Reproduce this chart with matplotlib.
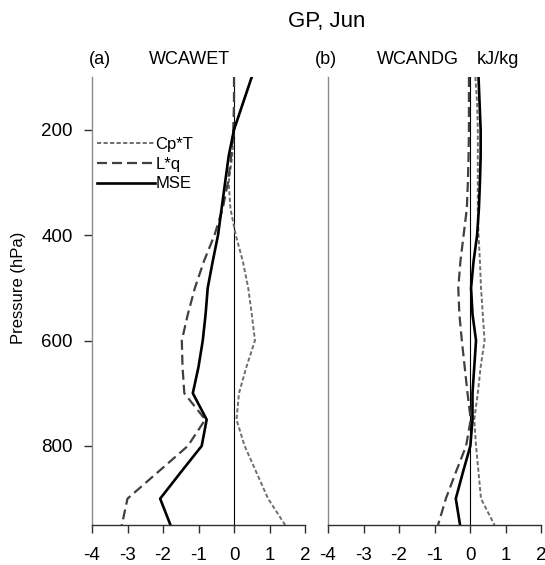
import matplotlib
matplotlib.use("Agg")
import matplotlib.pyplot as plt

plt.rcParams['font.family'] = ['Liberation Sans', 'DejaVu Sans']
plt.rcParams['lines.scale_dashes'] = False

# pressure levels (hPa)
levels = [100, 150, 200, 250, 300, 350, 400, 450, 500, 550, 600, 650, 700, 750, 800, 850, 900, 950]

# (a) WCAWET, kJ/kg
cpt_wet = [0.5, 0.25, 0.0, -0.05, -0.15, -0.1, 0.05, 0.25, 0.4, 0.5, 0.59, 0.35, 0.14, 0.07, 0.3, 0.63, 0.96, 1.44]
lq_wet = [0.0, 0.0, -0.02, -0.08, -0.17, -0.32, -0.55, -0.85, -1.1, -1.3, -1.47, -1.45, -1.4, -0.81, -1.3, -2.15, -3.0, -3.16]
mse_wet = [0.5, 0.25, 0.0, -0.15, -0.25, -0.35, -0.45, -0.6, -0.74, -0.8, -0.88, -1.0, -1.16, -0.77, -0.91, -1.5, -2.08, -1.79]

# (b) WCANDG, kJ/kg
cpt_ndg = [0.15, 0.2, 0.22, 0.22, 0.22, 0.22, 0.24, 0.28, 0.31, 0.36, 0.41, 0.3, 0.22, 0.12, 0.17, 0.24, 0.31, 0.69]
lq_ndg = [-0.03, -0.03, -0.03, -0.04, -0.06, -0.09, -0.18, -0.27, -0.33, -0.3, -0.23, -0.15, -0.07, 0.02, -0.11, -0.4, -0.68, -0.9]
mse_ndg = [0.24, 0.27, 0.3, 0.3, 0.28, 0.25, 0.2, 0.1, 0.03, 0.07, 0.17, 0.12, 0.07, 0.07, 0.01, -0.2, -0.4, -0.28]

xticks = [-4, -3, -2, -1, 0, 1, 2]
yticks = [200, 400, 600, 800]

W, H = 545, 565
fig = plt.figure(figsize=(W / 100, H / 100), dpi=100)


def fx(px):
    return px / W


def fy(py):
    return 1 - py / H


ax_a = fig.add_axes([fx(92), fy(525), fx(213), 448 / H])
ax_b = fig.add_axes([fx(328), fy(525), fx(213), 448 / H])


def draw_panel(ax, cpt, lq, mse, show_y):
    ax.axvline(0, color='black', lw=0.8, zorder=1)
    ax.plot(cpt, levels, color='#6e6e6e', lw=1.4, dashes=(3.0, 1.7), label='Cp*T')
    ax.plot(lq, levels, color='#404040', lw=1.6, dashes=(7.2, 3.6), label='L*q')
    ax.plot(mse, levels, color='black', lw=1.9, label='MSE')
    ax.set_xlim(-4, 2)
    ax.set_ylim(950, 100)
    ax.set_xticks(xticks)
    ax.set_xticklabels([str(t) for t in xticks])
    for s in ['top', 'right']:
        ax.spines[s].set_visible(False)
    ax.spines['left'].set_color('#8a8a8a')
    ax.spines['left'].set_linewidth(1.0)
    ax.spines['bottom'].set_color('#303030')
    ax.spines['bottom'].set_linewidth(1.0)
    ax.tick_params(axis='x', direction='out', length=6, width=1.0, color='#303030',
                   labelsize=13.5, pad=10)
    if show_y:
        ax.set_yticks(yticks)
        ax.tick_params(axis='y', direction='out', length=6, width=1.0, color='#303030',
                       labelsize=13.5, pad=8)
    else:
        ax.set_yticks([])


draw_panel(ax_a, cpt_wet, lq_wet, mse_wet, True)
draw_panel(ax_b, cpt_ndg, lq_ndg, mse_ndg, False)

ax_a.legend(loc='upper left', bbox_to_anchor=(5 / 213, 0.866), frameon=False, fontsize=12,
            handlelength=3.5, handletextpad=0.0, labelspacing=0.28, borderaxespad=0.0,
            borderpad=0.0)

fig.text(fx(327), fy(22), 'GP, Jun', fontsize=16, ha='center', va='center')
fig.text(fx(89), fy(60), '(a)', fontsize=13, ha='left', va='center')
fig.text(fx(189), fy(60), 'WCAWET', fontsize=13, ha='center', va='center')
fig.text(fx(315), fy(60), '(b)', fontsize=13, ha='left', va='center')
fig.text(fx(418), fy(60), 'WCANDG', fontsize=13, ha='center', va='center')
fig.text(fx(477), fy(60), 'kJ/kg', fontsize=13, ha='left', va='center')
fig.text(fx(19), fy(288), 'Pressure (hPa)', fontsize=12, rotation=90, ha='center', va='center')

fig.savefig('out.png', dpi=100)
